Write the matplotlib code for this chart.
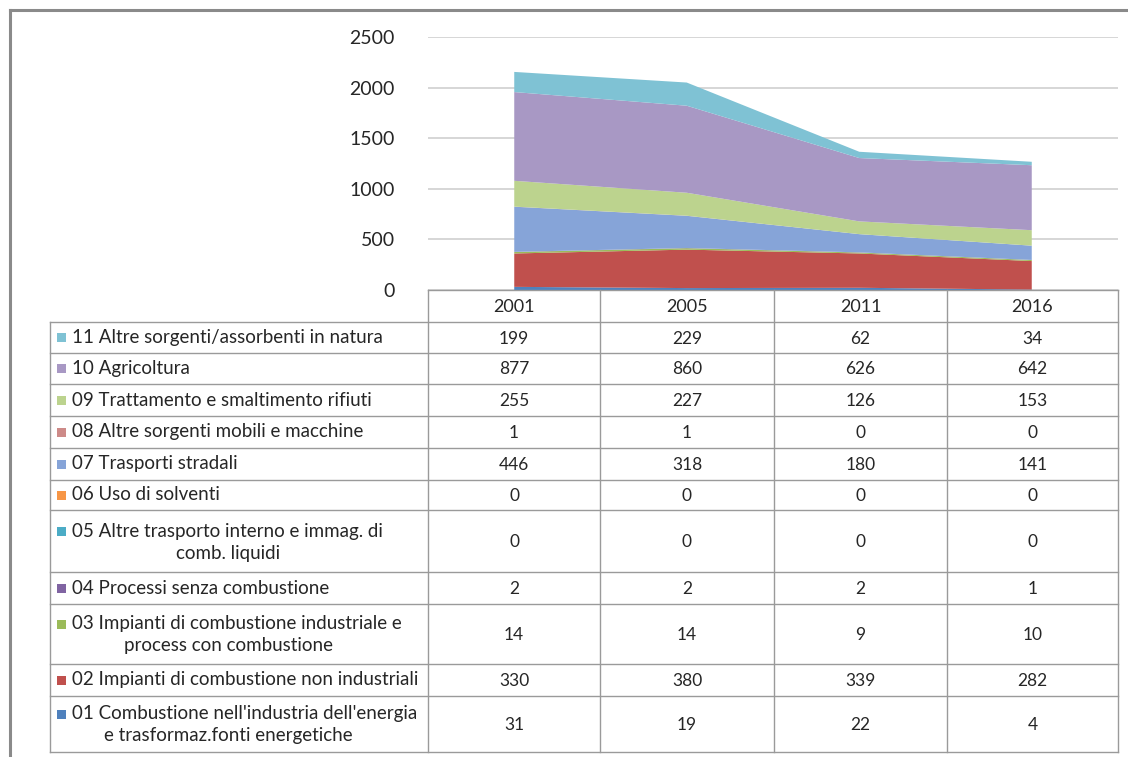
import matplotlib.pyplot as plt
from matplotlib.patches import Rectangle

plt.rcParams['font.family'] = ['Lato', 'DejaVu Sans']

years = ['2001', '2005', '2011', '2016']

# sectors, bottom of the stack first
sectors = [
    '01 Combustione nell\'industria dell\'energia\ne trasformaz.fonti energetiche',
    '02 Impianti di combustione non industriali',
    '03 Impianti di combustione industriale e\nprocess con combustione',
    '04 Processi senza combustione',
    '05 Altre trasporto interno e immag. di\ncomb. liquidi',
    '06 Uso di solventi',
    '07 Trasporti stradali',
    '08 Altre sorgenti mobili e macchine',
    '09 Trattamento e smaltimento rifiuti',
    '10 Agricoltura',
    '11 Altre sorgenti/assorbenti in natura',
]

s01 = [31, 19, 22, 4]
s02 = [330, 380, 339, 282]
s03 = [14, 14, 9, 10]
s04 = [2, 2, 2, 1]
s05 = [0, 0, 0, 0]
s06 = [0, 0, 0, 0]
s07 = [446, 318, 180, 141]
s08 = [1, 1, 0, 0]
s09 = [255, 227, 126, 153]
s10 = [877, 860, 626, 642]
s11 = [199, 229, 62, 34]
series = [s01, s02, s03, s04, s05, s06, s07, s08, s09, s10, s11]

colors = ['#4F81BD', '#C0504D', '#9BBB59', '#8064A2', '#4BACC6', '#F79646',
          '#86A4D8', '#CD8A88', '#BCD38E', '#A898C4', '#7FC2D4']

W, H = 1128, 757
fig = plt.figure(figsize=(W / 100, H / 100), dpi=100)

# pixel geometry of the chart / data table
x_cols = [428, 600, 774, 947, 1118]
y_top, y_zero = 37, 290
tbl_left = 50
row_edges = [322, 353, 384, 416, 448, 480, 510, 572, 604, 664, 696, 752]
txt = '#262626'

ax = fig.add_axes([x_cols[0] / W, 1 - y_zero / H,
                   (x_cols[-1] - x_cols[0]) / W, (y_zero - y_top) / H])
xs = range(len(years))
ax.stackplot(xs, *series, colors=colors, linewidth=0)
ax.set_xlim(-0.5, len(years) - 0.5)
ax.set_ylim(0, 2500)
ax.set_yticks(range(0, 2501, 500))
ax.yaxis.grid(True, color='#D0D0D0', linewidth=1.2)
ax.set_axisbelow(True)
ax.set_xticks([])
ax.tick_params(axis='y', length=0, pad=24, labelsize=14, labelcolor=txt)
for sp in ax.spines.values():
    sp.set_visible(False)

# overlay in pixel coordinates for the frame and the data table
ov = fig.add_axes([0, 0, 1, 1], facecolor='none')
ov.set_xlim(0, W)
ov.set_ylim(H, 0)
ov.axis('off')

# outer frame
ov.plot([10, 10], [10, H], color='#8A8A8A', lw=2.2)
ov.plot([10, W], [10, 10], color='#8A8A8A', lw=2.2)

lc = '#9A9A9A'
ov.plot([x_cols[0], x_cols[-1]], [y_zero, y_zero], color=lc, lw=1)
for y in row_edges:
    ov.plot([tbl_left, x_cols[-1]], [y, y], color=lc, lw=1)
ov.plot([tbl_left, tbl_left], [row_edges[0], row_edges[-1]], color=lc, lw=1)
for x in x_cols:
    ov.plot([x, x], [y_zero, row_edges[-1]], color=lc, lw=1)

# header row with the years
for i, yr in enumerate(years):
    ov.text((x_cols[i] + x_cols[i + 1]) / 2, (y_zero + row_edges[0]) / 2 + 1, yr,
            ha='center', va='center', fontsize=13, color=txt)

# table rows, top row is the last sector
for r in range(len(sectors)):
    k = len(sectors) - 1 - r
    y0, y1 = row_edges[r], row_edges[r + 1]
    yc = (y0 + y1) / 2
    lines = sectors[k].split('\n')
    if len(lines) == 1:
        y_first = yc
    else:
        y_first = yc - 10
    ov.add_patch(Rectangle((57, y_first - 4.5), 9, 9, color=colors[k], lw=0))
    ov.text(72, y_first, lines[0], ha='left', va='center',
            fontsize=13.5, color=txt)
    if len(lines) > 1:
        ov.text(228, yc + 12, lines[1], ha='center', va='center',
                fontsize=13.5, color=txt)
    for i, v in enumerate(series[k]):
        ov.text((x_cols[i] + x_cols[i + 1]) / 2, yc + 1, str(v),
                ha='center', va='center', fontsize=12.5, color=txt)

fig.savefig('out.png', dpi=100)
